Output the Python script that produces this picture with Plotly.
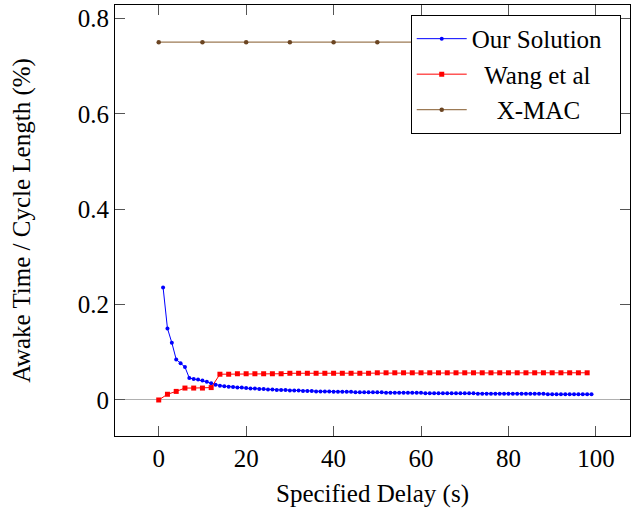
import plotly.graph_objects as go

# Our Solution: x = 1..99
ours_x = list(range(1, 100))
ours_y = [0.236, 0.150, 0.120, 0.085, 0.077, 0.069, 0.046, 0.044, 0.043, 0.041,
          0.038, 0.035, 0.032, 0.030, 0.029, 0.028, 0.027, 0.026, 0.026, 0.025,
          0.024, 0.024, 0.023, 0.023, 0.022, 0.022, 0.021, 0.021, 0.021, 0.020,
          0.020, 0.020, 0.019, 0.019, 0.019, 0.018, 0.018, 0.018, 0.018, 0.017,
          0.017, 0.017, 0.017, 0.017, 0.016, 0.016, 0.016, 0.016, 0.016, 0.016,
          0.016, 0.015, 0.015, 0.015, 0.015, 0.015, 0.015, 0.015, 0.015, 0.015,
          0.014, 0.014, 0.014, 0.014, 0.014, 0.014, 0.014, 0.014, 0.014, 0.014,
          0.014, 0.014, 0.013, 0.013, 0.013, 0.013, 0.013, 0.013, 0.013, 0.013,
          0.013, 0.013, 0.013, 0.013, 0.013, 0.013, 0.013, 0.013, 0.012, 0.012,
          0.012, 0.012, 0.012, 0.012, 0.012, 0.012, 0.012, 0.012, 0.012]

# Wang et al: x = 0, 2, ..., 98
wang_x = list(range(0, 100, 2))
wang_y = [0.000, 0.012, 0.018, 0.025, 0.025, 0.025, 0.026, 0.054, 0.054, 0.055,
          0.055, 0.055, 0.055, 0.055, 0.055, 0.056, 0.056, 0.056, 0.056, 0.056,
          0.056, 0.056, 0.056, 0.056, 0.056, 0.057, 0.057, 0.057, 0.057, 0.057,
          0.057, 0.057, 0.057, 0.057, 0.057, 0.057, 0.057, 0.057, 0.057, 0.057,
          0.057, 0.057, 0.057, 0.057, 0.057, 0.057, 0.057, 0.057, 0.057, 0.057]

# X-MAC: x = 0, 10, ..., 100
xmac_x = list(range(0, 101, 10))
xmac_y = [0.75] * 11

x_ticks = [0, 20, 40, 60, 80, 100]
y_ticks = [0, 0.2, 0.4, 0.6, 0.8]
y_tick_labels = ["0", "0.2", "0.4", "0.6", "0.8"]

FONT = "Liberation Serif, Times New Roman, Times, serif"
NB = "\u00a0"

fig = go.Figure()
fig.add_trace(go.Scatter(
    x=ours_x, y=ours_y, mode="lines+markers", name="Our Solution" + NB * 2,
    line=dict(color="#0000ff", width=1),
    marker=dict(symbol="circle", size=4, color="#0000ff")))
fig.add_trace(go.Scatter(
    x=wang_x, y=wang_y, mode="lines+markers", name=NB * 2 + "Wang et al",
    line=dict(color="#ff0000", width=1),
    marker=dict(symbol="square", size=5, color="#ff0000")))
fig.add_trace(go.Scatter(
    x=xmac_x, y=xmac_y, mode="lines+markers", name=NB * 4 + "X-MAC",
    line=dict(color="#9c7a55", width=1.2),
    marker=dict(symbol="circle", size=4.5, color="#6b4522")))

axis_common = dict(
    showline=True, linecolor="black", linewidth=1, mirror="ticks",
    ticks="inside", ticklen=10, tickcolor="#555555", tickwidth=1,
    showgrid=False,
    tickfont=dict(family=FONT, size=25, color="black"),
)

fig.update_xaxes(
    range=[-10, 107.8], tickvals=x_ticks, zeroline=False,
    title=dict(text="Specified Delay (s)", font=dict(family=FONT, size=25, color="black"), standoff=13),
    **axis_common)
fig.update_yaxes(
    range=[-0.0755, 0.828], tickvals=y_ticks, ticktext=y_tick_labels,
    zeroline=True, zerolinecolor="#b0b0b0", zerolinewidth=1,
    title=dict(text="Awake Time / Cycle Length (%)", font=dict(family=FONT, size=25, color="black"), standoff=40),
    **axis_common)

fig.update_layout(
    width=631, height=510,
    margin=dict(l=115, r=1, t=5, b=74),
    plot_bgcolor="white", paper_bgcolor="white",
    font=dict(family=FONT, size=25, color="black"),
    legend=dict(
        x=0.982, y=0.977, xanchor="right", yanchor="top",
        bgcolor="white", bordercolor="black", borderwidth=1,
        font=dict(family=FONT, size=25, color="black"),
        itemwidth=50,
        tracegroupgap=0,
    ),
    showlegend=True,
)

fig.write_html("out.html", config={"displayModeBar": False},
               post_script="document.body.style.margin='0px';")
